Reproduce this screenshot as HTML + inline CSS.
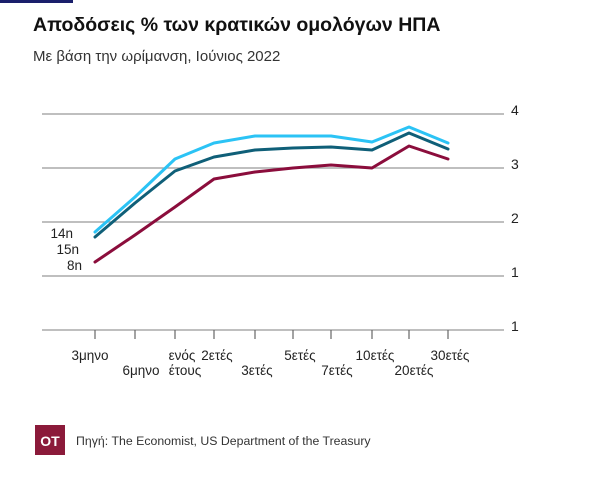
<!DOCTYPE html>
<html><head><meta charset="utf-8"><style>
body{margin:0;background:#fff;width:600px;height:474px;overflow:hidden;font-family:"Liberation Sans","DejaVu Sans",sans-serif;}
</style></head><body>
<svg width="600" height="474" xmlns="http://www.w3.org/2000/svg" font-family="Liberation Sans, DejaVu Sans, sans-serif">
<rect x="0" y="0" width="73" height="3" fill="#1a1f6b"/>
<text x="33" y="31" font-size="19.5" font-weight="bold" fill="#111">Αποδόσεις % των κρατικών ομολόγων ΗΠΑ</text>
<text x="33" y="61" font-size="15" fill="#333">Με βάση την ωρίμανση, Ιούνιος 2022</text>
<g stroke="#999" stroke-width="1.2">
<line x1="42" y1="114" x2="504" y2="114"/>
<line x1="42" y1="168" x2="504" y2="168"/>
<line x1="42" y1="222" x2="504" y2="222"/>
<line x1="42" y1="276" x2="504" y2="276"/>
<line x1="42" y1="330" x2="504" y2="330"/>
<g stroke="#666">
<line x1="95" y1="330" x2="95" y2="339"/><line x1="135" y1="330" x2="135" y2="339"/>
<line x1="175" y1="330" x2="175" y2="339"/><line x1="214" y1="330" x2="214" y2="339"/>
<line x1="255" y1="330" x2="255" y2="339"/><line x1="293" y1="330" x2="293" y2="339"/>
<line x1="331" y1="330" x2="331" y2="339"/><line x1="372" y1="330" x2="372" y2="339"/>
<line x1="409" y1="330" x2="409" y2="339"/><line x1="448" y1="330" x2="448" y2="339"/>
</g></g>
<g font-size="14" fill="#222">
<text x="511" y="115">4</text><text x="511" y="169">3</text><text x="511" y="223">2</text><text x="511" y="277">1</text><text x="511" y="331">1</text>
</g>
<g fill="none" stroke-width="3" stroke-linejoin="round" stroke-linecap="round">
<polyline stroke="#8b0d3c" points="95,262 135,235 175,207 214,179 255,172 293,168 331,165 372,168 409,146 448,159"/>
<polyline stroke="#0f5f78" points="95,237 135,203 175,171 214,157 255,150 293,148 331,147 372,150 409,133 448,149"/>
<polyline stroke="#2bc3f5" points="95,232 135,197 175,159 214,143 255,136 293,136 331,136 372,142 409,127 448,143"/>
</g>
<g font-size="13.5" fill="#222" text-anchor="end">
<text x="73" y="238">14n</text><text x="79" y="254">15n</text><text x="82" y="270">8n</text>
</g>
<g font-size="13.5" fill="#222" text-anchor="middle">
<text x="90" y="360">3μηνο</text><text x="141" y="375">6μηνο</text>
<text x="182" y="360">ενός</text><text x="185" y="375">έτους</text>
<text x="217" y="360">2ετές</text><text x="257" y="375">3ετές</text>
<text x="300" y="360">5ετές</text><text x="337" y="375">7ετές</text>
<text x="375" y="360">10ετές</text><text x="414" y="375">20ετές</text>
<text x="450" y="360">30ετές</text>
</g>
<rect x="35" y="425" width="30" height="30" fill="#8b1a3a"/>
<text x="50" y="446" font-size="14" font-weight="bold" fill="#fff" text-anchor="middle">ΟΤ</text>
<text x="76" y="445" font-size="12.3" fill="#333">Πηγή: The Economist, US Department of the Treasury</text>
</svg>
</body></html>
